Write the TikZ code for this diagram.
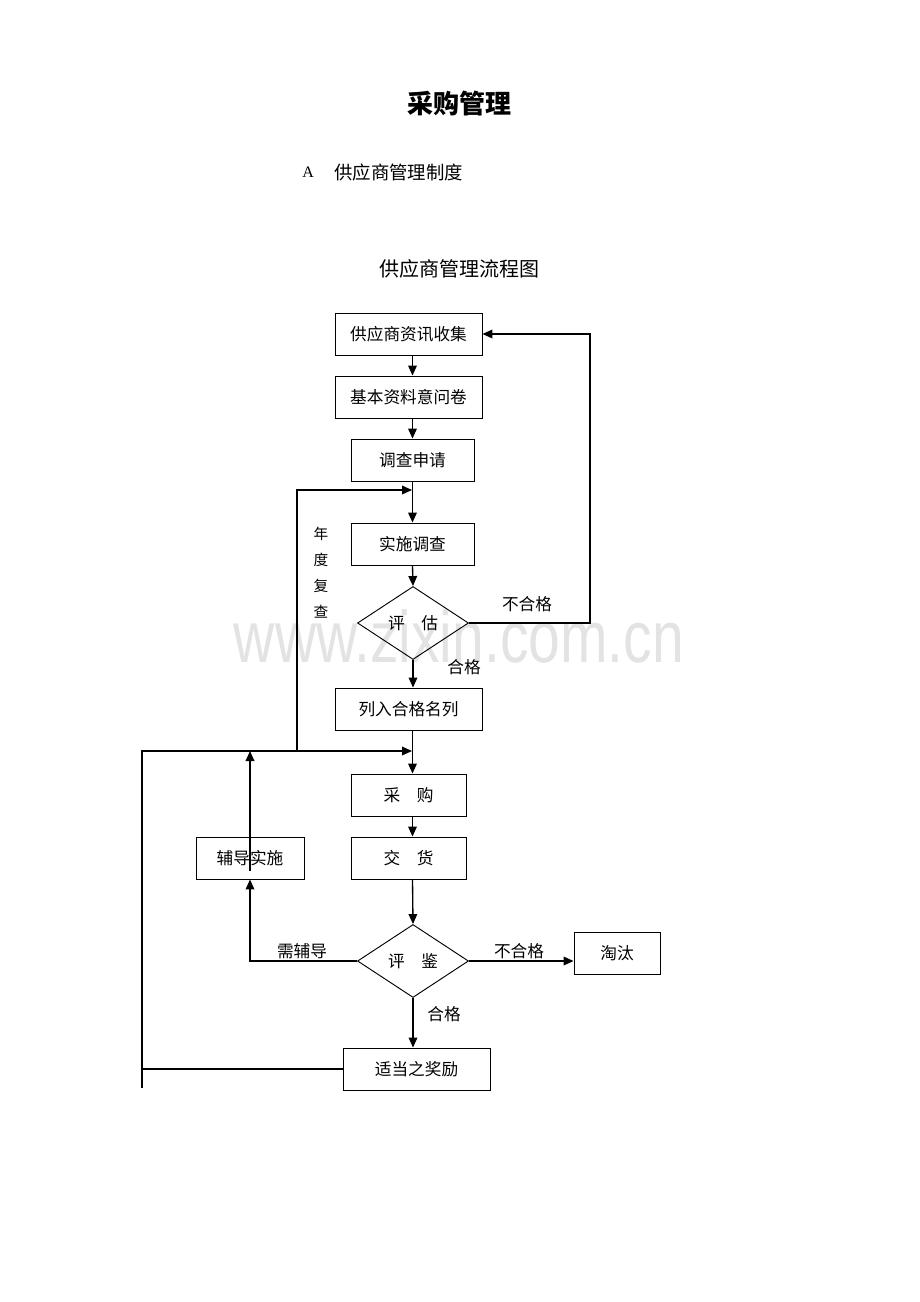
\documentclass[tikz,border=0pt]{standalone}
\usepackage{fontspec}
\setmainfont{Liberation Serif}
\newfontfamily\cjk{Noto Sans CJK SC}
\newfontfamily\wmfont{Liberation Sans}
\usetikzlibrary{shapes.geometric,arrows.meta}
\definecolor{wmgray}{HTML}{E3E3E3}
\begin{document}
\begin{tikzpicture}[x=0.75pt,y=-0.75pt,
  box/.style={draw,line width=0.7pt,inner sep=0pt,minimum height=31.5pt,font=\cjk\fontsize{12.5}{14}\selectfont},
  dia/.style={draw,diamond,line width=0.7pt,inner sep=0pt,minimum width=83.25pt,minimum height=54.75pt,font=\cjk\fontsize{12.5}{14}\selectfont},
  lbl/.style={inner sep=0pt,font=\cjk\fontsize{12.5}{14}\selectfont},
  vlbl/.style={inner sep=0pt,font=\cjk\fontsize{11}{13}\selectfont},
  ln/.style={line width=0.9pt},
  arr/.style={line width=1pt,-{Triangle[length=7.5pt,width=6.5pt]}}]
\useasboundingbox (0,0) rectangle (920,1302);
% watermark
\node[inner sep=0pt,text=wmgray,yscale=1.28,font=\wmfont\fontsize{42.8}{44}\selectfont] (wm) at (459,636) {www.zixin.com.cn};
% titles
\node[inner sep=0pt,font=\cjk\bfseries\fontsize{19.5}{22}\selectfont] (title) at (459,104) {采购管理};
\node[inner sep=0pt,anchor=west,font=\fontsize{12}{14}\selectfont] (ta) at (302,172) {A};
\node[inner sep=0pt,anchor=west,font=\cjk\fontsize{13.8}{16}\selectfont] (tsub) at (334,172) {供应商管理制度};
\node[inner sep=0pt,font=\cjk\fontsize{15}{18}\selectfont] (tflow) at (459,269) {供应商管理流程图};
% boxes
\node[box,minimum width=110.25pt] (s1) at (408.5,334) {供应商资讯收集};
\node[box,minimum width=110.25pt] (s2) at (408.5,397) {基本资料意问卷};
\node[box,minimum width=92.25pt] (s3) at (412.5,460) {调查申请};
\node[box,minimum width=92.25pt] (s4) at (412.5,544) {实施调查};
\node[dia] (d1) at (413,623) {评\hspace{1em}估};
\node[box,minimum width=110.25pt] (s6) at (408.5,709) {列入合格名列};
\node[box,minimum width=86.25pt] (s7) at (408.5,795) {采\hspace{1em}购};
\node[box,minimum width=86.25pt] (s8) at (408.5,858) {交\hspace{1em}货};
\node[box,minimum width=81pt] (fd) at (250,858) {辅导实施};
\node[dia] (d2) at (413,961) {评\hspace{1em}鉴};
\node[box,minimum width=64.5pt] (tt) at (617,953) {淘汰};
\node[box,minimum width=110.25pt] (s12) at (416.5,1069) {适当之奖励};
% helper coordinates
\coordinate (j1) at (412,490);
\coordinate (j2) at (412,751);
\coordinate (k1) at (297,751);
\coordinate (k0) at (142,751);
\coordinate (kb) at (142,1088);
\coordinate (r) at (590,627);
% main flow
\draw[arr] (s1.south -| s3) -- (s2.north -| s3);
\draw[arr] (s2.south -| s3) -- (s3.north -| s3);
\draw[arr] (s3.south -| s3) -- (s4.north -| s3);
\draw[arr] (s4.south -| s3) -- (d1.north);
\draw[arr] (d1.south) -- (s6.north -| d1);
\draw[arr] (s6.south -| s3) -- (s7.north -| s3);
\draw[arr] (s7.south -| s3) -- (s8.north -| s3);
\draw[arr] (s8.south -| s3) -- (d2.north);
\draw[arr] (d2.south) -- (s12.north -| d2);
% reject loop
\draw[arr] (d1.east) -- (d1.east -| r) |- (s1.east);
% annual review loop
\draw[arr] (k1) |- (j1);
\draw[arr] (kb) -- (k0) -- (j2);
\draw[ln] (s12.west) -- (s12.west -| k0);
% coaching
\draw[arr] (d2.west) -| (fd.south);
\draw[arr] ([yshift=-10pt]fd.center) -- (fd.center |- j2);
% eliminate
\draw[arr] (d2.east) -- (d2.east -| tt.west);
% labels
\node[lbl] (l1) at (527,604) {不合格};
\node[lbl] (l2) at (464,667) {合格};
\node[lbl] (l3) at (302,951) {需辅导};
\node[lbl] (l4) at (519,951) {不合格};
\node[lbl] (l5) at (444,1014) {合格};
\node[vlbl] (v1) at (321,534) {年};
\node[vlbl] (v2) at (321,560) {度};
\node[vlbl] (v3) at (321,586) {复};
\node[vlbl] (v4) at (321,612) {查};
\end{tikzpicture}
\end{document}
